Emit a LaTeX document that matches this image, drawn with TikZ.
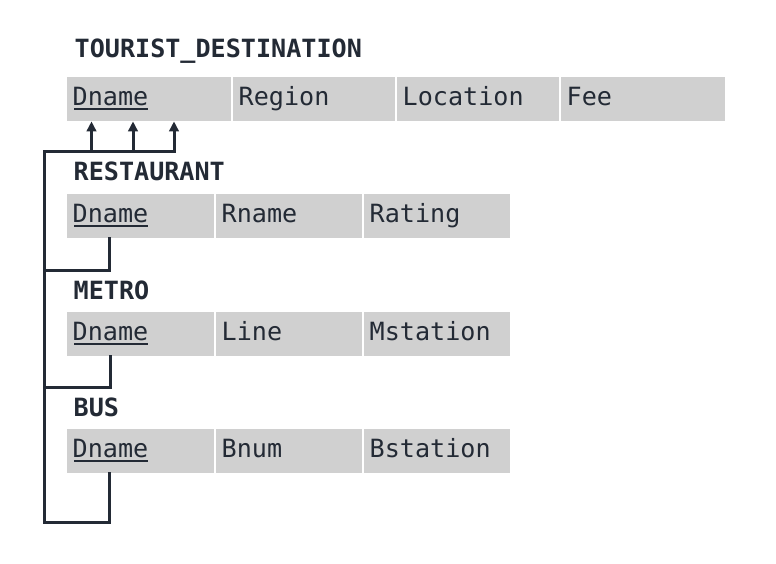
\documentclass[tikz,border=0pt]{standalone}
\usepackage{fontspec}
\setmonofont{DejaVu Sans Mono}
\usetikzlibrary{arrows.meta}
\definecolor{textc}{RGB}{35,42,53}
\definecolor{cellc}{RGB}{208,208,208}
\newcommand{\keyu}[1]{\setbox0\hbox{#1}\rlap{\hspace{1.5bp}\rule[-4.5bp]{\dimexpr\wd0-1.5bp\relax}{2bp}}\box0}
\begin{document}
\begin{tikzpicture}[x=1bp,y=-1bp,
  cell/.style={fill=cellc, inner xsep=5.5bp, inner ysep=0pt, minimum height=44bp,
    text height=18bp, text depth=6bp, text width=#1, align=left, anchor=north west,
    font=\ttfamily\fontsize{25.2}{29}\selectfont, text=textc},
  title/.style={anchor=base west, inner sep=0pt,
    font=\ttfamily\bfseries\fontsize{25.2}{29}\selectfont, text=textc},
  link/.style={draw=textc, line width=3bp, line join=miter, line cap=rect},
  fk/.style={link, -{Triangle[length=10bp,width=9.5bp]}}]
\useasboundingbox (0,0) rectangle (776,564);

% TOURIST_DESTINATION
\node[title] (tdT) at (74.5,58) {TOURIST\_DESTINATION};
\node[cell=153bp] (tD) at (67,77) {\keyu{Dname}};
\node[cell=151bp] (tR) at (233,77) {Region};
\node[cell=151bp] (tL) at (397,77) {Location};
\node[cell=153bp] (tF) at (561,77) {Fee};

% RESTAURANT
\node[title] (rT) at (73.5,181) {RESTAURANT};
\node[cell=136bp] (rD) at (67,194) {\keyu{Dname}};
\node[cell=135bp] (rN) at (216,194) {Rname};
\node[cell=135bp] (rRt) at (364,194) {Rating};

% METRO
\node[title] (mT) at (73.5,299) {METRO};
\node[cell=136bp] (mD) at (67,312) {\keyu{Dname}};
\node[cell=135bp] (mL) at (216,312) {Line};
\node[cell=135bp] (mS) at (364,312) {Mstation};

% BUS
\node[title] (bT) at (73.5,416) {BUS};
\node[cell=136bp] (bD) at (67,429) {\keyu{Dname}};
\node[cell=135bp] (bN) at (216,429) {Bnum};
\node[cell=135bp] (bS) at (364,429) {Bstation};

% connectors
\coordinate (railtop) at (44,152);
\coordinate (railbot) at (44,522);
\coordinate (rj) at (44,270);
\coordinate (mj) at (44,387);
\coordinate (a1) at (91.5,152);
\coordinate (a2) at (133,152);
\coordinate (a3) at (174,152);

\draw[fk] (railbot) -- (railtop) -- (a3) -- (a3 |- tD.south);
\draw[fk] (a1) -- (a1 |- tD.south);
\draw[fk] (a2) -- (a2 |- tD.south);
\draw[link] ([xshift=42bp]rD.south west) |- (rj);
\draw[link] ([xshift=43bp]mD.south west) |- (mj);
\draw[link] ([xshift=42bp]bD.south west) |- (railbot);
\end{tikzpicture}
\end{document}
